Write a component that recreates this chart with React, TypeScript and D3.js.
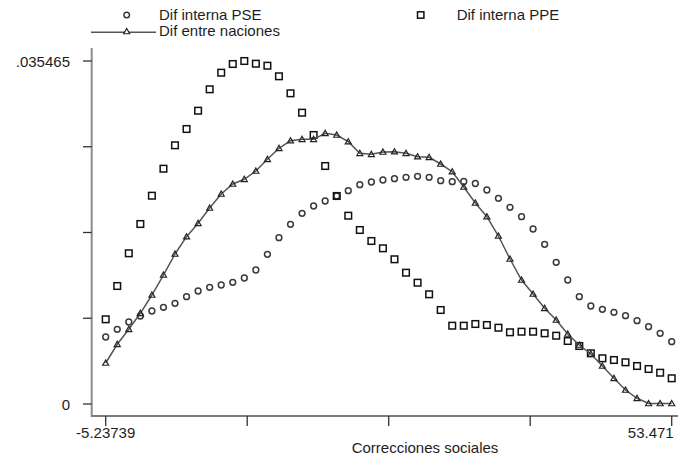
import * as d3 from "d3";
import React from "react";

// kdensity evaluated on 50 points between the x extremes
const xMin = -5.23739;
const xMax = 53.471;
const nPoints = 50;

const difPSE = [
  0.006928, 0.007724, 0.008479, 0.009099, 0.009616, 0.009998, 0.010412, 0.011095, 0.011684, 0.012066,
  0.012304, 0.012583, 0.013028, 0.013855, 0.015478, 0.017195, 0.01858, 0.019718, 0.020473, 0.02099,
  0.021507, 0.022055, 0.022675, 0.022954, 0.023161, 0.023295, 0.02344, 0.023544, 0.02344, 0.023089,
  0.022985, 0.023006, 0.022799, 0.022127, 0.021269, 0.020338, 0.019366, 0.018094, 0.016513, 0.014651,
  0.012821, 0.011095, 0.010133, 0.009792, 0.009482, 0.00913, 0.008613, 0.007993, 0.00731, 0.006442,
];

const difPPE = [
  0.008758, 0.012201, 0.015582, 0.018611, 0.021538, 0.024329, 0.026749, 0.028434, 0.030326, 0.032539,
  0.034256, 0.035155, 0.035465, 0.035186, 0.034979, 0.033883, 0.032125, 0.03012, 0.027814, 0.024608,
  0.021507, 0.01947, 0.017991, 0.016854, 0.016099, 0.014962, 0.013576, 0.012542, 0.011343, 0.009719,
  0.008096, 0.008096, 0.008272, 0.008168, 0.007889, 0.007414, 0.007476, 0.007476, 0.00731, 0.007062,
  0.006514, 0.005997, 0.005242, 0.004725, 0.004549, 0.004312, 0.003929, 0.003619, 0.003236, 0.002657,
];

const difNaciones = [
  0.004239, 0.006173, 0.007724, 0.009378, 0.01127, 0.013338, 0.01551, 0.017298, 0.018684, 0.020266,
  0.021713, 0.022747, 0.023233, 0.024092, 0.025301, 0.026439, 0.027224, 0.027369, 0.027369, 0.02799,
  0.027814, 0.027121, 0.025922, 0.025818, 0.026056, 0.026087, 0.025922, 0.02557, 0.025508, 0.024815,
  0.024019, 0.022437, 0.020783, 0.019366, 0.017371, 0.014993, 0.012821, 0.011374, 0.009895, 0.008685,
  0.007238, 0.0061, 0.00517, 0.003929, 0.002657, 0.001448, 0.000589, 0.000052, 0.000052, 0.000052,
];

const yMax = 0.035465;
const yTickLabels = ["0", ".035465"];
const xTickLabels = ["-5.23739", "53.471"];
const xTitle = "Correcciones sociales";

const W = 678;
const H = 458;
const font = "'Liberation Sans', Arial, sans-serif";
const ink = "#1e1e1e";

export default function App() {
  const x = d3.scaleLinear().domain([xMin, xMax]).range([105.7, 671.7]);
  const y = d3.scaleLinear().domain([0, yMax]).range([404, 61]);
  const step = (xMax - xMin) / (nPoints - 1);
  const grid = d3.range(nPoints).map((i) => xMin + i * step);
  const xTicks = d3.range(5).map((i) => xMin + (i * (xMax - xMin)) / 4);
  const yTicks = d3.range(5).map((i) => (i * yMax) / 4);

  const line = d3
    .line<number>()
    .x((_, i) => x(grid[i]))
    .y((d) => y(d));

  const tri = (cx: number, cy: number, s = 3.8) =>
    `M${cx},${cy - s}L${cx + s},${cy + s * 0.75}L${cx - s},${cy + s * 0.75}Z`;

  return (
    <svg
      width={W}
      height={H}
      style={{ position: "absolute", left: 0, top: 0, background: "#fff" }}
      fontFamily={font}
    >
      {/* legend */}
      <circle cx={126.7} cy={15} r={2.8} fill="none" stroke="#333" strokeWidth={1.4} />
      <text x={159} y={19.5} fontSize={15} fill={ink}>Dif interna PSE</text>
      <rect x={417.5} y={11.8} width={6.4} height={6.4} fill="none" stroke="#111" strokeWidth={1.5} />
      <text x={456.7} y={19.5} fontSize={15} fill={ink}>Dif interna PPE</text>
      <line x1={91} x2={156} y1={32.3} y2={32.3} stroke="#555" strokeWidth={1.5} />
      <path d={tri(126.7, 31.5, 3)} fill="#fff" stroke="#222" strokeWidth={1.2} />
      <text x={159} y={36} fontSize={15} fill={ink}>Dif entre naciones</text>

      {/* axes */}
      <line x1={91.7} x2={91.7} y1={48} y2={417} stroke="#8c8c8c" strokeWidth={2} />
      <line x1={91.7} x2={W} y1={416} y2={416} stroke="#7a7a7a" strokeWidth={1.8} />
      {yTicks.map((t, i) => (
        <line key={i} x1={83} x2={91.7} y1={y(t)} y2={y(t)} stroke="#333" strokeWidth={1.3} />
      ))}
      <text x={70} y={y(0) + 6} fontSize={15} textAnchor="end" fill={ink}>{yTickLabels[0]}</text>
      <text x={70} y={y(yMax) + 5.5} fontSize={15} textAnchor="end" fill={ink}>{yTickLabels[1]}</text>
      {xTicks.map((t, i) => (
        <line key={i} x1={x(t)} x2={x(t)} y1={416} y2={426} stroke="#333" strokeWidth={1.3} />
      ))}
      <text x={x(xMin)} y={438} fontSize={15} textAnchor="middle" fill={ink}>{xTickLabels[0]}</text>
      <text x={x(xMax) + 2} y={438} fontSize={15} textAnchor="end" fill={ink}>{xTickLabels[1]}</text>
      <text x={425} y={453} fontSize={15} textAnchor="middle" fill={ink}>{xTitle}</text>

      {/* Dif interna PSE */}
      {difPSE.map((d, i) => (
        <circle key={"c" + i} cx={x(grid[i])} cy={y(d)} r={2.9} fill="none" stroke="#3a3a3a" strokeWidth={1.5} />
      ))}
      {/* Dif interna PPE */}
      {difPPE.map((d, i) => (
        <rect
          key={"s" + i}
          x={x(grid[i]) - 3.3}
          y={y(d) - 3.3}
          width={6.6}
          height={6.6}
          fill="none"
          stroke="#111"
          strokeWidth={1.5}
        />
      ))}
      {/* Dif entre naciones */}
      <path d={line(difNaciones) ?? ""} fill="none" stroke="#555" strokeWidth={1.5} />
      {difNaciones.map((d, i) => (
        <path key={"t" + i} d={tri(x(grid[i]), y(d), 3)} fill="none" stroke="#222" strokeWidth={1.2} />
      ))}
    </svg>
  );
}
